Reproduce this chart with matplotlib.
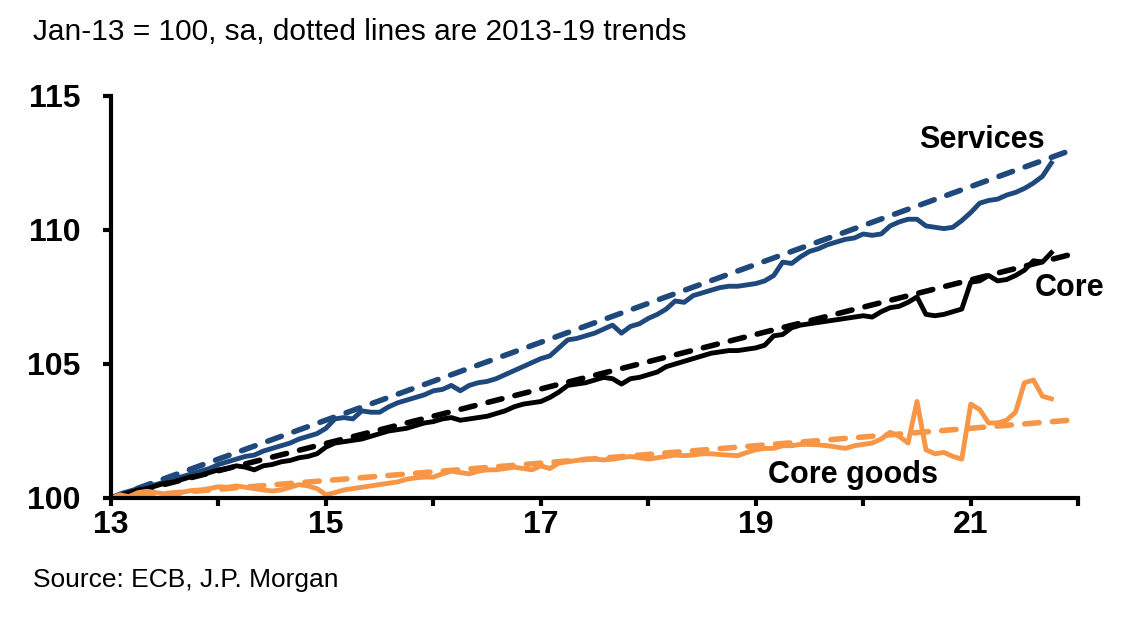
import numpy as np
import matplotlib
matplotlib.use("Agg")
import matplotlib.pyplot as plt

plt.rcParams['font.family'] = ['Liberation Sans', 'DejaVu Sans']

# monthly index, Jan-13 = 100, Jan 2013 .. Oct 2021
services = [100.0, 100.15, 100.25, 100.35, 100.45, 100.5, 100.6, 100.7, 100.8, 100.9, 101.0, 101.1,
            101.25, 101.35, 101.45, 101.55, 101.6, 101.75, 101.85, 101.95, 102.05, 102.2, 102.3, 102.4,
            102.6, 102.95, 103.0, 102.95, 103.25, 103.2, 103.2, 103.4, 103.55, 103.65, 103.75, 103.85,
            104.0, 104.05, 104.2, 104.0, 104.2, 104.3, 104.35, 104.45, 104.6, 104.75, 104.9, 105.05,
            105.2, 105.3, 105.6, 105.9, 105.95, 106.05, 106.15, 106.3, 106.45, 106.15, 106.4, 106.5,
            106.7, 106.85, 107.05, 107.35, 107.3, 107.55, 107.65, 107.75, 107.85, 107.9, 107.9, 107.95,
            108.0, 108.1, 108.3, 108.8, 108.75, 109.0, 109.2, 109.3, 109.45, 109.55, 109.65, 109.7,
            109.85, 109.8, 109.85, 110.15, 110.3, 110.4, 110.4, 110.15, 110.1, 110.05, 110.1, 110.35,
            110.65, 111.0, 111.1, 111.15, 111.3, 111.4, 111.55, 111.75, 112.0, 112.5]

core = [100.0, 100.1, 100.2, 100.3, 100.35, 100.45, 100.55, 100.6, 100.7, 100.8, 100.85, 100.95,
        101.05, 101.1, 101.2, 101.15, 101.05, 101.2, 101.25, 101.35, 101.4, 101.5, 101.55, 101.65,
        101.9, 102.05, 102.1, 102.15, 102.2, 102.3, 102.4, 102.5, 102.55, 102.6, 102.7, 102.8,
        102.85, 102.95, 103.0, 102.9, 102.95, 103.0, 103.05, 103.15, 103.25, 103.4, 103.5, 103.55,
        103.6, 103.75, 103.95, 104.2, 104.25, 104.3, 104.4, 104.5, 104.45, 104.25, 104.45, 104.5,
        104.6, 104.7, 104.9, 105.0, 105.1, 105.2, 105.3, 105.4, 105.45, 105.5, 105.5, 105.55,
        105.6, 105.7, 106.05, 106.1, 106.35, 106.45, 106.5, 106.55, 106.6, 106.65, 106.7, 106.75,
        106.8, 106.75, 106.95, 107.1, 107.15, 107.3, 107.5, 106.85, 106.8, 106.85, 106.95, 107.05,
        108.05, 108.1, 108.3, 108.1, 108.15, 108.3, 108.5, 108.85, 108.8, 109.15]

core_goods = [100.0, 100.12, 100.05, 100.2, 100.25, 100.2, 100.15, 100.08, 100.22, 100.28, 100.3, 100.35,
              100.42, 100.4, 100.45, 100.4, 100.35, 100.3, 100.26, 100.3, 100.4, 100.5, 100.45, 100.35,
              100.12, 100.2, 100.3, 100.35, 100.4, 100.45, 100.5, 100.55, 100.6, 100.7, 100.75, 100.78,
              100.78, 100.9, 101.0, 100.95, 100.9, 101.0, 101.05, 101.05, 101.1, 101.15, 101.1, 101.05,
              101.2, 101.1, 101.3, 101.35, 101.4, 101.45, 101.45, 101.42, 101.45, 101.5, 101.55, 101.5,
              101.45, 101.5, 101.55, 101.6, 101.58, 101.6, 101.65, 101.65, 101.62, 101.6, 101.58, 101.7,
              101.8, 101.85, 101.85, 101.95, 101.95, 102.0, 102.0, 101.98, 101.95, 101.9, 101.85, 101.95,
              102.0, 102.05, 102.2, 102.45, 102.3, 102.05, 103.6, 101.8, 101.65, 101.7, 101.55, 101.45,
              103.5, 103.3, 102.8, 102.8, 102.9, 103.2, 104.3, 104.4, 103.8, 103.7]

# 2013-19 trends, start (Jan-13) and end (Dec-21)
trend_x = [13, 21 + 11 / 12]
services_trend = [100, 112.95]
core_trend = [100, 109.07]
goods_trend = [100, 102.9]

year_ticks = list(range(13, 23))
year_labels = [str(y) if y % 2 == 1 else "" for y in year_ticks]

blue = "#1F497D"
orange = "#F79646"

x = 13 + np.arange(len(services)) / 12

fig = plt.figure(figsize=(11.48, 6.19), dpi=100)
ax = fig.add_axes([0.0967, 0.1955, 0.8425, 0.6495])

dash = (0, (2.6, 2.4))
ax.plot(trend_x, services_trend, color=blue, lw=4.0, ls=dash, dash_capstyle="round")
ax.plot(trend_x, core_trend, color="black", lw=4.0, ls=dash, dash_capstyle="round")
ax.plot(trend_x, goods_trend, color=orange, lw=4.0, ls=dash, dash_capstyle="round")

ax.plot(x, services, color=blue, lw=3.5, solid_joinstyle="round")
ax.plot(x, core, color="black", lw=3.5, solid_joinstyle="round")
ax.plot(x, core_goods, color=orange, lw=3.5, solid_joinstyle="round")

ax.set_xlim(13, 22)
ax.set_ylim(100, 115)
ax.set_xticks(year_ticks)
ax.set_xticklabels(year_labels)
ax.set_yticks([100, 105, 110, 115])

for s in ["top", "right"]:
    ax.spines[s].set_visible(False)
for s in ["left", "bottom"]:
    ax.spines[s].set_linewidth(3)
ax.tick_params(axis="both", direction="out", length=6, width=3, labelsize=23)
ax.tick_params(axis="x", pad=3)
ax.tick_params(axis="y", pad=16)
for lab in ax.get_xticklabels() + ax.get_yticklabels():
    lab.set_fontweight("bold")

ax.text(21.1, 113.35, "Services", fontsize=22, fontweight="bold", ha="center", va="center")
ax.text(21.92, 107.85, "Core", fontsize=22, fontweight="bold", ha="center", va="center")
ax.text(19.9, 100.85, "Core goods", fontsize=22, fontweight="bold", ha="center", va="center")

fig.text(0.029, 0.948, "Jan-13 = 100, sa, dotted lines are 2013-19 trends", fontsize=21.5, va="center")
fig.text(0.029, 0.063, "Source: ECB, J.P. Morgan", fontsize=19, va="center")

fig.savefig("out.png", dpi=100)
